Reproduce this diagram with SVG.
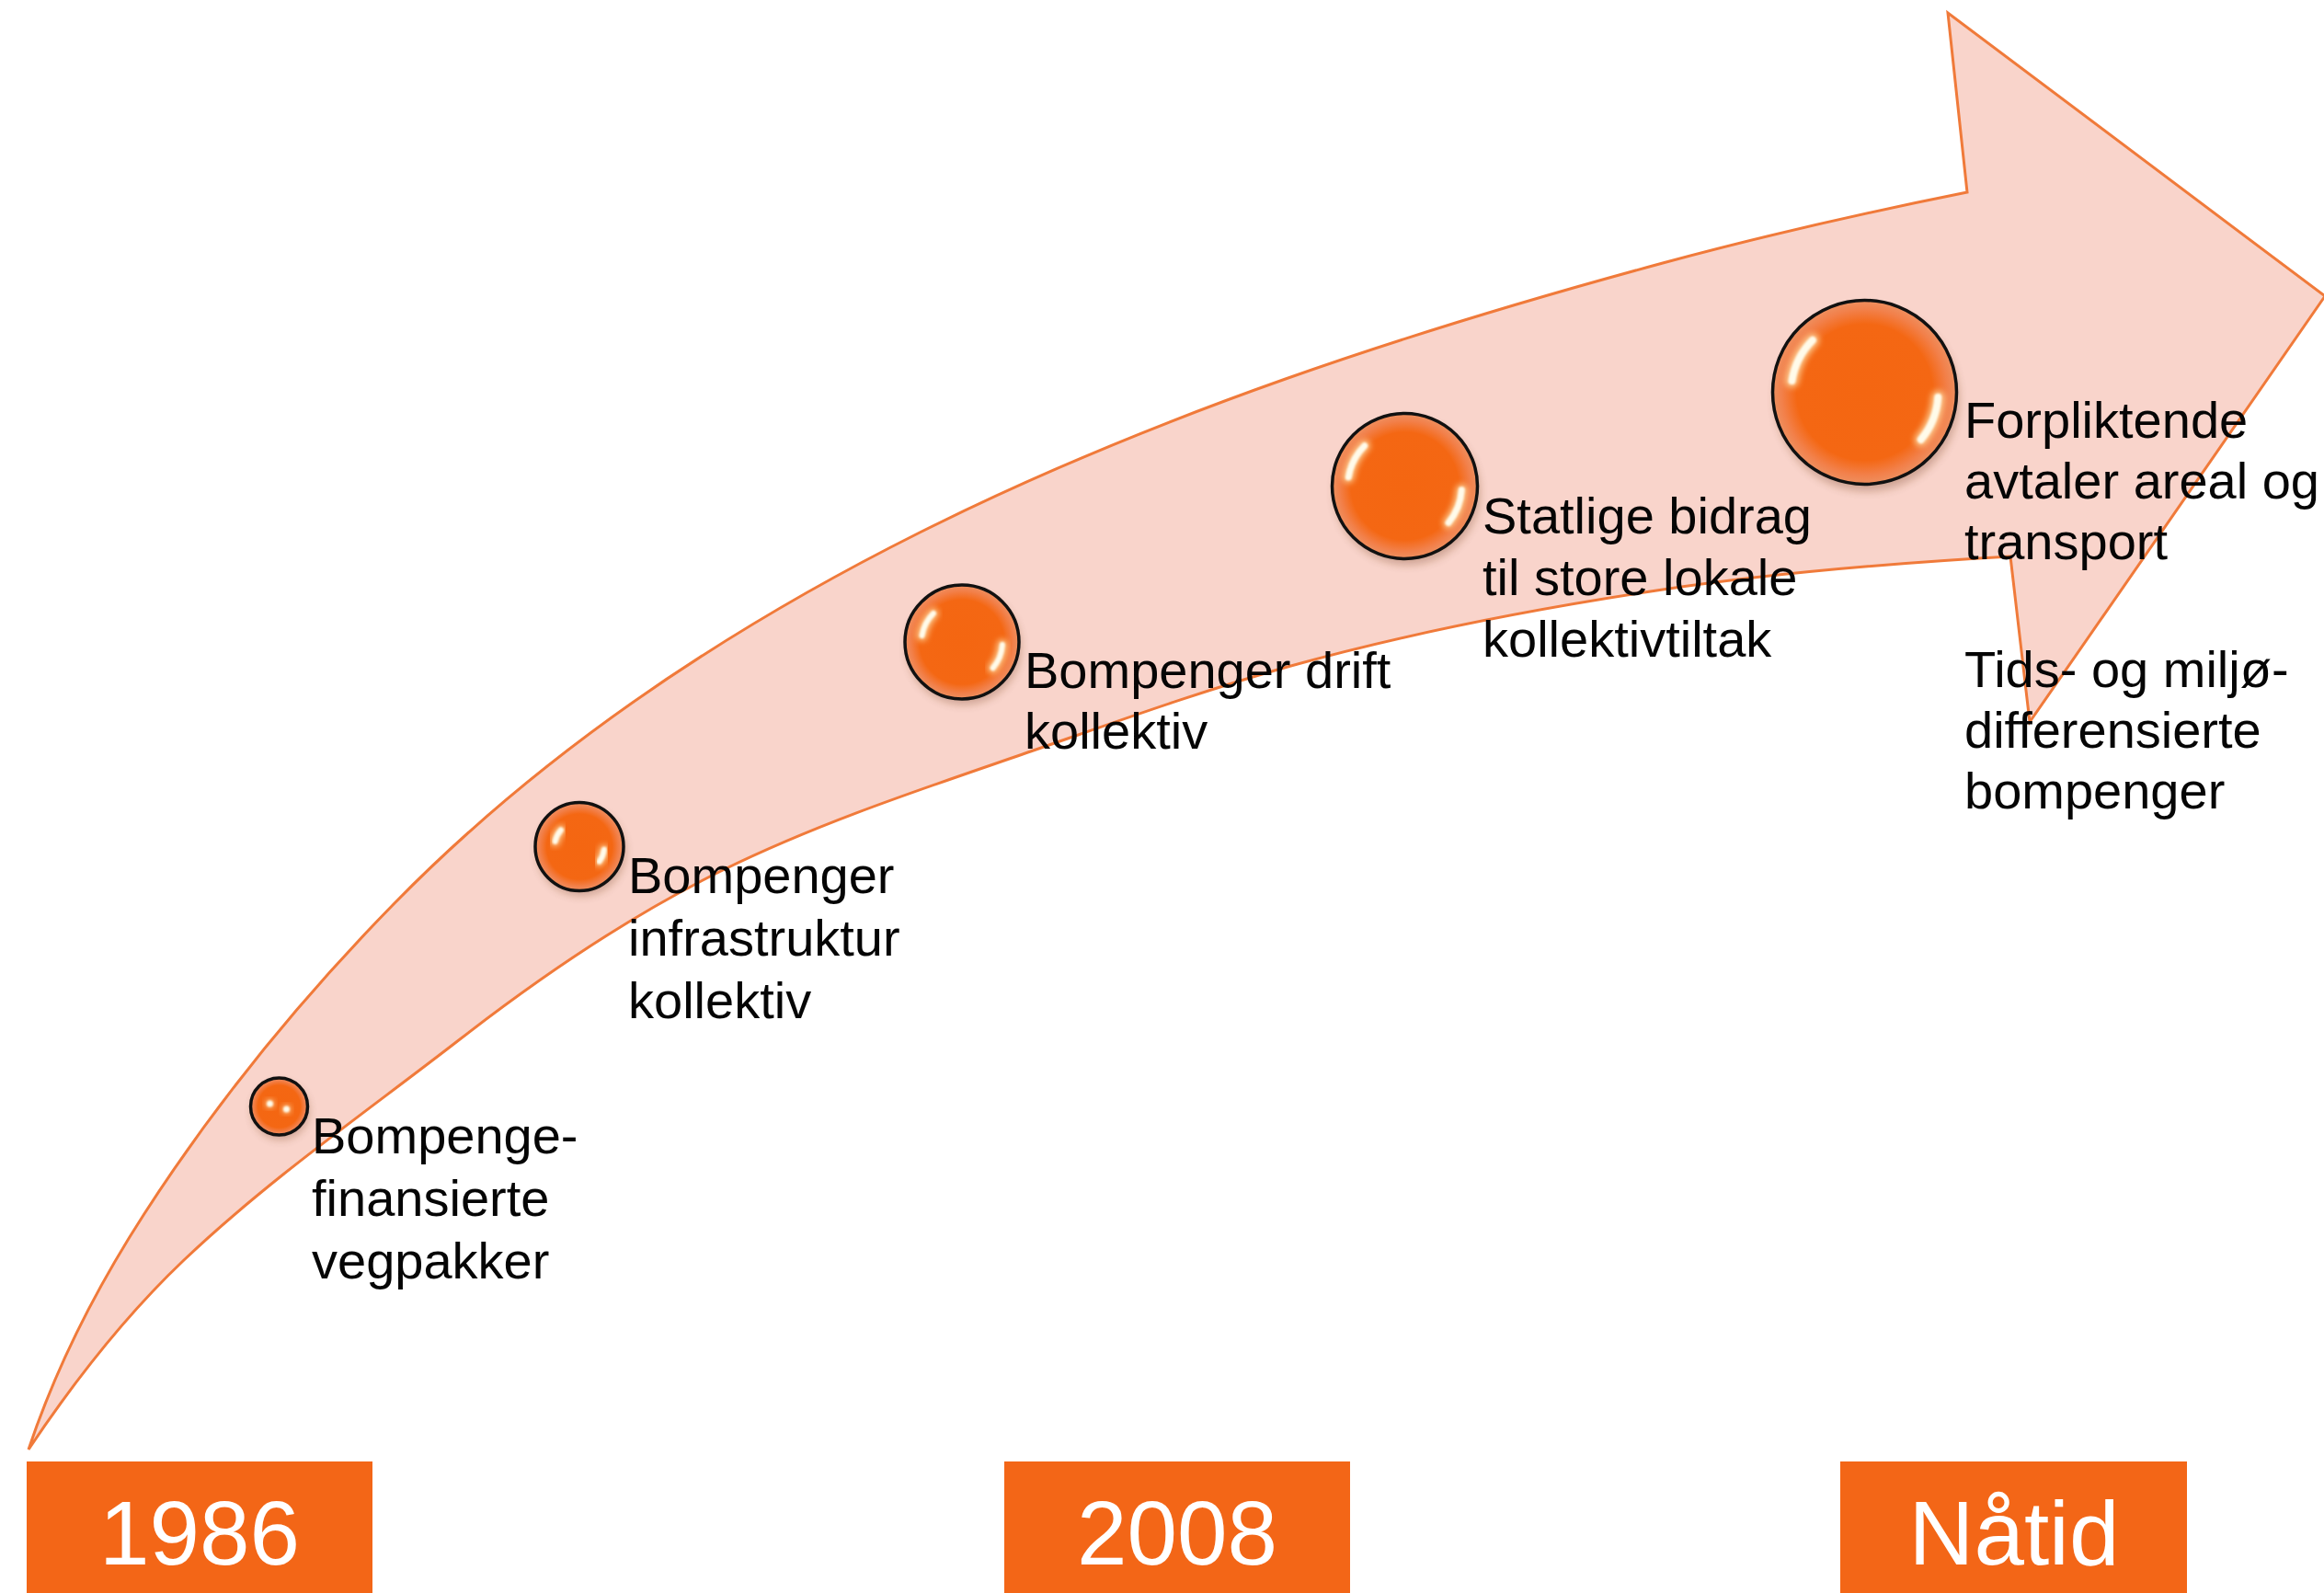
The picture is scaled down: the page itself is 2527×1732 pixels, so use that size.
<svg xmlns="http://www.w3.org/2000/svg" width="2527" height="1732" viewBox="0 0 2527 1732">
  <style>
    .lbl { font-family: "Liberation Sans", Arial, sans-serif; font-size: 56px; fill: #050505; }
    .year { font-family: "Liberation Sans", Arial, sans-serif; font-size: 98px; fill: #ffffff; text-anchor: middle; }
    .ybox { fill: #F36617; }
    .body { fill: url(#beadFill); stroke: #111111; stroke-width: 3.5; }
    .shade { fill: #6a3010; opacity: 0.3; filter: url(#shadow); }
    .glow { fill: none; stroke: #FFD9A0; stroke-linecap: round; opacity: 0.8; filter: url(#glowblur); }
    .hl { fill: none; stroke: #FFFBEA; stroke-linecap: round; filter: url(#soft); }
  </style>
  <defs>
    <radialGradient id="beadFill" cx="0.5" cy="0.5" r="0.5">
      <stop offset="0" stop-color="#F46611"/>
      <stop offset="0.74" stop-color="#F46713"/>
      <stop offset="0.9" stop-color="#F2804A"/>
      <stop offset="1" stop-color="#EE9060"/>
    </radialGradient>
    <filter id="soft" x="-50%" y="-50%" width="200%" height="200%">
      <feGaussianBlur stdDeviation="1"/>
    </filter>
    <filter id="glowblur" x="-80%" y="-80%" width="260%" height="260%">
      <feGaussianBlur stdDeviation="3"/>
    </filter>
    <filter id="shadow" x="-50%" y="-50%" width="200%" height="200%">
      <feGaussianBlur stdDeviation="5"/>
    </filter>
  </defs>

  <rect x="0" y="0" width="2527" height="1732" fill="#ffffff"/>

  <g id="arrow">
    <path fill="#F9D4CB" stroke="#F07A3A" stroke-width="3" stroke-linejoin="miter"
      d="M 31 1576
         C 61 1486 105.2 1399.8 156.7 1320
         C 235.3 1198.2 327.5 1085.5 429 982
         C 592 815.6 791.7 683.2 1000 579
         C 1256.1 450.9 1531.5 360.8 1808 286
         C 1917 256.5 2028.1 231.2 2139 209
         L 2118 14
         L 2528 322
         L 2207 785
         L 2186 605
         C 2059.2 612.2 1933.6 622.2 1808 641
         C 1670.5 661.6 1533.9 687.5 1400 725
         C 1302.7 752.3 1207.4 787.1 1112 820
         C 1001.9 858 890.6 894.7 786 946
         C 684.2 995.9 585 1064 500 1130
         C 398.9 1208.5 292.8 1281.8 200 1370
         C 135.6 1431.2 80.3 1502.1 31 1576 Z"/>
  </g>

  <g id="connectors"></g>

  <g id="node-1">
    <circle class="shade" cx="305" cy="1208" r="31"/>
    <circle class="body" cx="303.5" cy="1203" r="31"/>
    <g transform="translate(303.5,1203)">
      <circle class="glow" cx="-10" cy="-3" r="3" stroke-width="4"/>
      <circle class="glow" cx="8" cy="3" r="3" stroke-width="4"/>
      <circle cx="-10" cy="-3" r="3.5" fill="#FFFBEA" filter="url(#soft)"/>
      <circle cx="8" cy="3" r="3.5" fill="#FFFBEA" filter="url(#soft)"/>
    </g>
    <text class="lbl" x="339" y="1254">Bompenge-</text>
    <text class="lbl" x="339" y="1322">finansierte</text>
    <text class="lbl" x="339" y="1390">vegpakker</text>
  </g>

  <g id="node-2">
    <circle class="shade" cx="632" cy="926" r="48"/>
    <circle class="body" cx="630" cy="920.5" r="48"/>
    <g transform="translate(630,920.5)">
      <path class="glow" stroke-width="11" d="M -26.4 -5.6 A 27 27 0 0 1 -20.1 -18.1"/>
      <path class="glow" stroke-width="11" d="M 26.8 3.3 A 27 27 0 0 1 21.6 16.2"/>
      <path class="hl" stroke-width="6" d="M -26.4 -5.6 A 27 27 0 0 1 -20.1 -18.1"/>
      <path class="hl" stroke-width="6" d="M 26.8 3.3 A 27 27 0 0 1 21.6 16.2"/>
    </g>
    <text class="lbl" x="683" y="971">Bompenger</text>
    <text class="lbl" x="683" y="1039">infrastruktur</text>
    <text class="lbl" x="683" y="1107">kollektiv</text>
  </g>

  <g id="node-3">
    <circle class="shade" cx="1048" cy="704" r="62"/>
    <circle class="body" cx="1046" cy="698" r="62"/>
    <g transform="translate(1046,698)">
      <path class="glow" stroke-width="12" d="M -43.5 -6.9 A 44 44 0 0 1 -31.1 -31.1"/>
      <path class="glow" stroke-width="12" d="M 43.9 3.1 A 44 44 0 0 1 33.7 28.3"/>
      <path class="hl" stroke-width="6" d="M -43.5 -6.9 A 44 44 0 0 1 -31.1 -31.1"/>
      <path class="hl" stroke-width="6" d="M 43.9 3.1 A 44 44 0 0 1 33.7 28.3"/>
    </g>
    <text class="lbl" x="1114" y="748">Bompenger drift</text>
    <text class="lbl" x="1114" y="814">kollektiv</text>
  </g>

  <g id="node-4">
    <circle class="shade" cx="1530" cy="535" r="79"/>
    <circle class="body" cx="1527.5" cy="528.5" r="79"/>
    <g transform="translate(1527.5,528.5)">
      <path class="glow" stroke-width="13" d="M -61.2 -9.7 A 62 62 0 0 1 -43.8 -43.8"/>
      <path class="glow" stroke-width="13" d="M 61.8 4.3 A 62 62 0 0 1 47.5 39.9"/>
      <path class="hl" stroke-width="7" d="M -61.2 -9.7 A 62 62 0 0 1 -43.8 -43.8"/>
      <path class="hl" stroke-width="7" d="M 61.8 4.3 A 62 62 0 0 1 47.5 39.9"/>
    </g>
    <text class="lbl" x="1612" y="580">Statlige bidrag</text>
    <text class="lbl" x="1612" y="647">til store lokale</text>
    <text class="lbl" x="1612" y="714">kollektivtiltak</text>
  </g>

  <g id="node-5">
    <circle class="shade" cx="2030" cy="434" r="100"/>
    <circle class="body" cx="2027.5" cy="426.5" r="100" stroke-width="4"/>
    <g transform="translate(2027.5,426.5)">
      <path class="glow" stroke-width="15" d="M -79 -12.5 A 80 80 0 0 1 -56.6 -56.6"/>
      <path class="glow" stroke-width="15" d="M 79.8 5.6 A 80 80 0 0 1 61.3 51.4"/>
      <path class="hl" stroke-width="8" d="M -79 -12.5 A 80 80 0 0 1 -56.6 -56.6"/>
      <path class="hl" stroke-width="8" d="M 79.8 5.6 A 80 80 0 0 1 61.3 51.4"/>
    </g>
    <text class="lbl" x="2136" y="476">Forpliktende</text>
    <text class="lbl" x="2136" y="542">avtaler areal og</text>
    <text class="lbl" x="2136" y="608">transport</text>
  </g>

  <g id="node-6">
    <text class="lbl" x="2136" y="747">Tids- og miljø-</text>
    <text class="lbl" x="2136" y="813">differensierte</text>
    <text class="lbl" x="2136" y="879">bompenger</text>
  </g>

  <g id="year-1986">
    <rect class="ybox" x="29" y="1589" width="376" height="143"/>
    <text class="year" x="217" y="1701">1986</text>
  </g>
  <g id="year-2008">
    <rect class="ybox" x="1092" y="1589" width="376" height="143"/>
    <text class="year" x="1280" y="1701">2008</text>
  </g>
  <g id="year-natid">
    <rect class="ybox" x="2001" y="1589" width="377" height="143"/>
    <text class="year" x="2190" y="1701">Nåtid</text>
  </g>
</svg>
